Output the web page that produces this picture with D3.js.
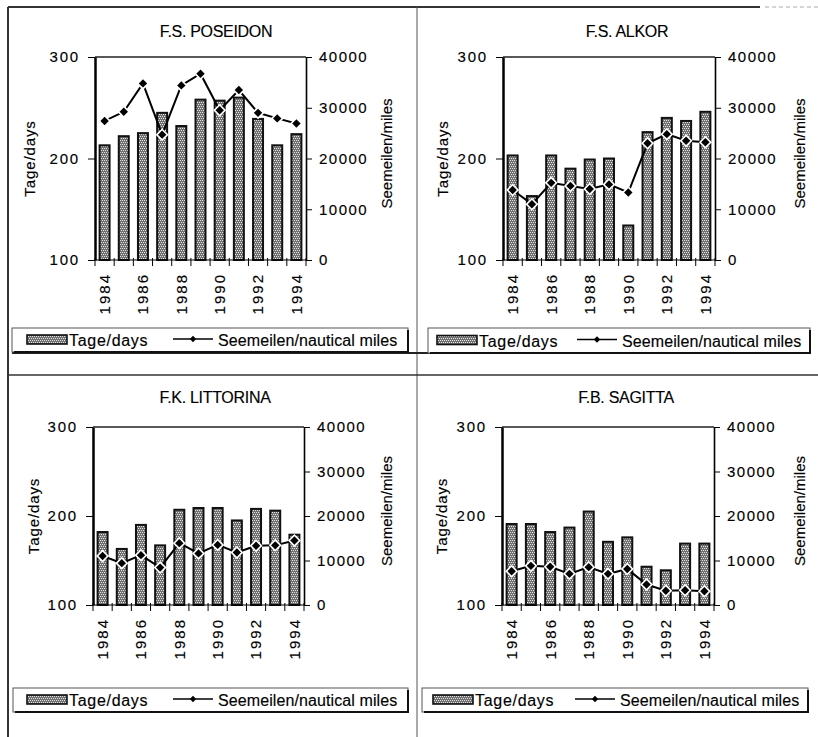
<!DOCTYPE html>
<html>
<head>
<meta charset="utf-8">
<script src="https://cdn.jsdelivr.net/npm/d3@7"></script>
<style>
  body { margin: 0; background: #fff; }
  svg { display: block; font-family: "Liberation Sans", Arial, sans-serif; }
  svg text { stroke: #000; stroke-width: 0.15px; fill: #000; }
</style>
</head>
<body>
<svg id="chart" width="818" height="737"></svg>
<script>
// data
const years = [1984, 1985, 1986, 1987, 1988, 1989, 1990, 1991, 1992, 1993, 1994];
const yearLabels = [1984, 1986, 1988, 1990, 1992, 1994];
const dayTicks = [100, 200, 300];
const mileTicks = [0, 10000, 20000, 30000, 40000];
const ships = ["F.S. POSEIDON", "F.S. ALKOR", "F.K. LITTORINA", "F.B. SAGITTA"];

const poseidonDays = [213, 222, 225, 245, 232, 258, 257, 260, 239, 213, 224];
const poseidonMiles = [27400, 29200, 34800, 24700, 34400, 36700, 29500, 33500, 29000, 27900, 26900];
const alkorDays = [203, 163, 203, 190, 199, 200, 134, 226, 240, 237, 246];
const alkorMiles = [13800, 11000, 15200, 14600, 14000, 14900, 13300, 23000, 24800, 23500, 23200];
const littorinaDays = [182, 163, 190, 167, 207, 209, 209, 195, 208, 206, 179];
const littorinaMiles = [11000, 9400, 11200, 8400, 13900, 11600, 13500, 11800, 13300, 13400, 14500];
const sagittaDays = [191, 191, 182, 187, 205, 171, 176, 143, 139, 169, 169];
const sagittaMiles = [7600, 8800, 8600, 7000, 8500, 7000, 8100, 4600, 3200, 3300, 3100];

const seriesNames = ["Tage/days", "Seemeilen/nautical miles"];
const leftTitle = "Tage/days";
const rightTitle = "Seemeilen/miles";

// page layout of the four panels
const panels = [
  { days: poseidonDays, miles: poseidonMiles, x0: 95, x1: 306, y0: 57, y1: 260, titleX: 216, titleY: 37,
    lx: 12, ly: 328, lw: 396, lh: 24, swX: 27, lineX: 173, yLabX: 30, rLabX: 387 },
  { days: alkorDays, miles: alkorMiles, x0: 503, x1: 715, y0: 57, y1: 260, titleX: 627, titleY: 37,
    lx: 428, ly: 328, lw: 382, lh: 25, swX: 437, lineX: 577, yLabX: 443, rLabX: 800 },
  { days: littorinaDays, miles: littorinaMiles, x0: 93, x1: 304, y0: 427, y1: 605, titleX: 215, titleY: 403,
    lx: 13, ly: 688, lw: 395, lh: 24, swX: 27, lineX: 173, yLabX: 34, rLabX: 387 },
  { days: sagittaDays, miles: sagittaMiles, x0: 502, x1: 714, y0: 427, y1: 605, titleX: 626, titleY: 403,
    lx: 422, ly: 688, lw: 386, lh: 24, swX: 433, lineX: 575, yLabX: 442, rLabX: 800 }
];

const svg = d3.select("#chart");

// stippled bar fill (staggered light dots on gray)
const pat = svg.append("defs").append("pattern")
  .attr("id", "stip")
  .attr("patternUnits", "userSpaceOnUse")
  .attr("width", 4).attr("height", 4);
pat.append("rect").attr("width", 4).attr("height", 4).attr("fill", "#707070");
[[0, 0], [2, 0], [1, 2], [3, 2]].forEach(p => {
  pat.append("rect").attr("x", p[0]).attr("y", p[1]).attr("width", 1).attr("height", 1).attr("fill", "#e4e4e4");
});

// frame lines of the scanned page
svg.append("line").attr("x1", 8).attr("x2", 760).attr("y1", 7).attr("y2", 7)
  .style("stroke", "#333").style("stroke-width", 2);
svg.append("line").attr("x1", 765).attr("x2", 818).attr("y1", 7).attr("y2", 7)
  .style("stroke", "#aaa").style("stroke-width", 1).style("stroke-dasharray", "4 3");
svg.append("line").attr("x1", 8).attr("x2", 8).attr("y1", 7).attr("y2", 737)
  .style("stroke", "#333").style("stroke-width", 2);
svg.append("line").attr("x1", 417).attr("x2", 417).attr("y1", 7).attr("y2", 737)
  .style("stroke", "#555").style("stroke-width", 1);
svg.append("line").attr("x1", 8).attr("x2", 818).attr("y1", 375).attr("y2", 375)
  .style("stroke", "#333").style("stroke-width", 1.5);
svg.append("line").attr("x1", 12).attr("x2", 811).attr("y1", 353).attr("y2", 353)
  .style("stroke", "#222").style("stroke-width", 2);

const diamond = r => `M0,${-r}L${r},0L0,${r}L${-r},0Z`;

panels.forEach((p, i) => {
  const g = svg.append("g");

  const x = d3.scaleBand().domain(years).range([p.x0, p.x1]);
  const yDays = d3.scaleLinear().domain([100, 300]).range([p.y1, p.y0]);
  const yMiles = d3.scaleLinear().domain([0, 40000]).range([p.y1, p.y0]);
  const bw = x.bandwidth();

  // title
  g.append("text")
    .attr("x", p.titleX).attr("y", p.titleY)
    .attr("text-anchor", "middle")
    .style("font-size", "16px").style("letter-spacing", "-0.3px")
    .text(ships[i]);

  // top frame of plot
  g.append("line").attr("x1", p.x0).attr("x2", p.x1).attr("y1", p.y0).attr("y2", p.y0)
    .style("stroke", "#222").style("stroke-width", 1.3);

  // bars
  g.selectAll(".bar")
    .data(years.map((yr, k) => ({ yr, v: p.days[k] })))
    .enter().append("rect")
    .attr("class", "bar")
    .attr("x", d => x(d.yr) + bw * 0.24)
    .attr("width", bw * 0.52)
    .attr("y", d => yDays(d.v))
    .attr("height", d => p.y1 - yDays(d.v))
    .attr("fill", "url(#stip)")
    .style("stroke", "#111").style("stroke-width", 2);

  // miles line
  const pts = years.map((yr, k) => ({ yr, v: p.miles[k] }));
  g.append("path")
    .datum(pts)
    .attr("fill", "none")
    .style("stroke", "#000").style("stroke-width", 2)
    .attr("d", d3.line().x(d => x(d.yr) + bw / 2).y(d => yMiles(d.v)));

  g.selectAll(".halo")
    .data(pts).enter().append("path")
    .attr("class", "halo")
    .attr("transform", d => `translate(${x(d.yr) + bw / 2},${yMiles(d.v)})`)
    .attr("d", diamond(6.5)).attr("fill", "#fff");
  g.selectAll(".mark")
    .data(pts).enter().append("path")
    .attr("class", "mark")
    .attr("transform", d => `translate(${x(d.yr) + bw / 2},${yMiles(d.v)})`)
    .attr("d", diamond(4.2)).attr("fill", "#000");

  // left axis
  g.append("g")
    .attr("transform", `translate(${p.x0},0)`)
    .call(d3.axisLeft(yDays).tickValues(dayTicks).tickSize(7).tickSizeOuter(0).tickPadding(8))
    .call(a => a.select(".domain").style("stroke", "#000").style("stroke-width", 2.5))
    .call(a => a.selectAll("text").style("font-size", "15px").style("letter-spacing", "1.8px"));

  // right axis
  g.append("g")
    .attr("transform", `translate(${p.x1},0)`)
    .call(d3.axisRight(yMiles).tickValues(mileTicks).tickSize(6).tickSizeOuter(0).tickPadding(7).tickFormat(d3.format("d")))
    .call(a => a.select(".domain").style("stroke", "#000").style("stroke-width", 1.6))
    .call(a => a.selectAll("text").style("font-size", "15px").style("letter-spacing", "1.5px"));

  // bottom axis: line + boundary ticks + rotated year labels
  g.append("line").attr("x1", p.x0).attr("x2", p.x1).attr("y1", p.y1).attr("y2", p.y1)
    .style("stroke", "#000").style("stroke-width", 1.2);
  g.selectAll(".btick")
    .data(years.map(yr => x(yr)).concat([p.x1]))
    .enter().append("line")
    .attr("class", "btick")
    .attr("x1", d => d).attr("x2", d => d)
    .attr("y1", p.y1 - 2).attr("y2", p.y1 + 6)
    .style("stroke", "#000").style("stroke-width", 1);

  g.append("g")
    .attr("transform", `translate(0,${p.y1})`)
    .call(d3.axisBottom(x).tickValues(yearLabels).tickSize(0))
    .call(a => a.select(".domain").remove())
    .call(a => a.selectAll("text")
      .attr("transform", "rotate(-90)")
      .attr("text-anchor", "end")
      .attr("x", -13).attr("y", 0).attr("dy", "0.36em")
      .style("font-size", "15px").style("letter-spacing", "2px"));

  // axis titles
  g.append("text")
    .attr("transform", `translate(${p.yLabX},${(p.y0 + p.y1) / 2}) rotate(-90)`)
    .attr("text-anchor", "middle").attr("dy", "0.36em")
    .style("font-size", "15px").style("letter-spacing", "0.9px")
    .text(leftTitle);
  g.append("text")
    .attr("transform", `translate(${p.rLabX},${(p.y0 + p.y1) / 2 - 5}) rotate(-90)`)
    .attr("text-anchor", "middle").attr("dy", "0.36em")
    .style("font-size", "15px")
    .text(rightTitle);

  // legend
  const lg = g.append("g");
  lg.append("rect")
    .attr("x", p.lx).attr("y", p.ly).attr("width", p.lw).attr("height", p.lh)
    .attr("fill", "#fff").style("stroke", "#555").style("stroke-width", 1);
  lg.append("line").attr("x1", p.lx + p.lw).attr("x2", p.lx + p.lw).attr("y1", p.ly + 2).attr("y2", p.ly + p.lh + 1)
    .style("stroke", "#111").style("stroke-width", 2);
  lg.append("line").attr("x1", p.lx + 2).attr("x2", p.lx + p.lw + 1).attr("y1", p.ly + p.lh).attr("y2", p.ly + p.lh)
    .style("stroke", "#111").style("stroke-width", 2);

  const mid = p.ly + p.lh / 2;
  lg.append("rect")
    .attr("x", p.swX).attr("y", mid - 5).attr("width", 40).attr("height", 9)
    .attr("fill", "url(#stip)").style("stroke", "#111").style("stroke-width", 1.6);
  lg.append("text")
    .attr("x", p.swX + 42).attr("y", mid + 6)
    .style("font-size", "16px").style("letter-spacing", "0.7px")
    .text(seriesNames[0]);
  lg.append("line")
    .attr("x1", p.lineX).attr("x2", p.lineX + 40).attr("y1", mid - 1).attr("y2", mid - 1)
    .style("stroke", "#000").style("stroke-width", 1.6);
  lg.append("path")
    .attr("transform", `translate(${p.lineX + 20},${mid - 1})`)
    .attr("d", diamond(3.2)).attr("fill", "#000");
  lg.append("text")
    .attr("x", p.lineX + 45).attr("y", mid + 6)
    .style("font-size", "16px").style("letter-spacing", "0.1px")
    .text(seriesNames[1]);
});
</script>
</body>
</html>
